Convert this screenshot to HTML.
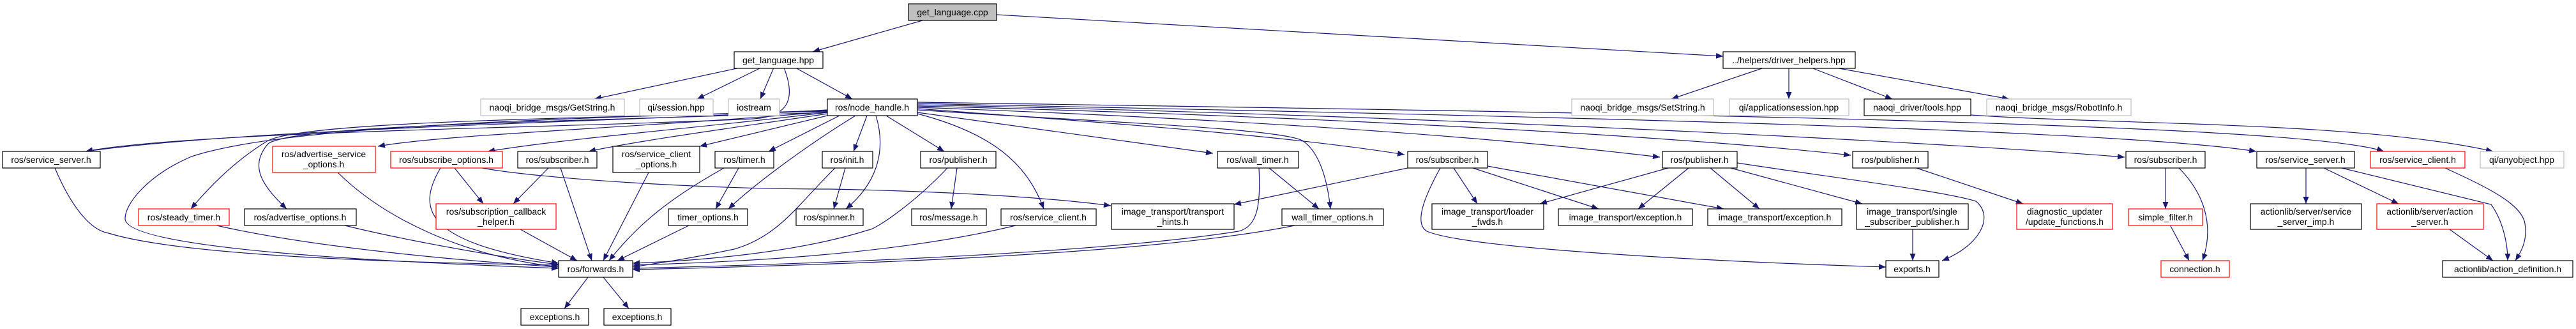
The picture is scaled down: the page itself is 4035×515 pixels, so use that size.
<!DOCTYPE html>
<html><head><meta charset="utf-8"><style>
html,body{margin:0;padding:0;background:#fff;}
svg{display:block;}
text{font-family:"Liberation Sans",Arial,sans-serif;font-size:14px;fill:#000;text-anchor:middle;}
.b{fill:#fff;stroke:#000;stroke-width:1.2;}
.g{fill:#fff;stroke:#bfbfbf;stroke-width:1.2;}
.r{fill:#fff;stroke:#ff0000;stroke-width:1.2;}
.e{fill:none;stroke:#191970;stroke-width:1.2;}
</style></head><body>
<svg width="4035" height="515" viewBox="0 0 4035 515" xmlns="http://www.w3.org/2000/svg">
<defs><marker id="a" markerUnits="userSpaceOnUse" markerWidth="12" markerHeight="9" refX="11" refY="4.5" orient="auto"><path d="M0,0 L11,4.5 L0,9 z" fill="#191970"/></marker></defs>
<g marker-end="url(#a)">
<path class="e" d="M1445,32 L1273,81"/>
<path class="e" d="M1561,23 L2699,88"/>
<path class="e" d="M1159,106 L931,155"/>
<path class="e" d="M1192,106 L1092,155"/>
<path class="e" d="M1212,106 L1191,155"/>
<path class="e" d="M1246,106 L1335,155"/>
<path class="e" d="M1228,106 C1245,150 1240,182 1180,186 C900,200 300,205 134,237"/>
<path class="e" d="M1296,172 C1000,190 400,200 134,237"/>
<path class="e" d="M1296,175 C1000,200 700,210 592,229"/>
<path class="e" d="M1296,176 C1100,200 900,215 764,237"/>
<path class="e" d="M1296,178 C1150,200 1000,220 922,237"/>
<path class="e" d="M1300,180 L1096,229"/>
<path class="e" d="M1315,181 L1204,237"/>
<path class="e" d="M1358,181 L1337,237"/>
<path class="e" d="M1296,174 C900,185 480,190 420,220 C370,250 330,290 299,327"/>
<path class="e" d="M1296,176 C900,190 460,195 420,225 C390,260 410,290 449,327"/>
<path class="e" d="M1296,173 C900,185 450,195 300,245 C230,275 195,320 196,343 C200,390 600,410 875,420"/>
<path class="e" d="M1340,181 C1260,230 1180,290 1141,327"/>
<path class="e" d="M1372,181 C1390,240 1370,290 1325,327"/>
<path class="e" d="M1388,181 L1479,237"/>
<path class="e" d="M1437,178 C1560,210 1610,260 1635,327"/>
<path class="e" d="M1437,176 L1900,240"/>
<path class="e" d="M1437,172 C1700,190 2000,200 2040,220 C2070,240 2080,290 2084,327"/>
<path class="e" d="M1437,170 C1700,190 2000,210 2200,242"/>
<path class="e" d="M1437,168 C1900,185 2300,210 2600,246"/>
<path class="e" d="M1437,166 C2000,180 2600,210 2899,243"/>
<path class="e" d="M1437,164 C2200,180 3000,220 3328,246"/>
<path class="e" d="M1437,162 C2300,180 3300,200 3534,237"/>
<path class="e" d="M1437,160 C2400,175 3600,190 3734,237"/>
<path class="e" d="M3087,180 C3300,195 3700,190 3905,237"/>
<path class="e" d="M2763,106 L2618,155"/>
<path class="e" d="M2802,106 L2802,155"/>
<path class="e" d="M2837,106 L2964,155"/>
<path class="e" d="M2875,106 L3147,155"/>
<path class="e" d="M86,263 C110,320 140,360 170,365 C300,405 700,412 875,415"/>
<path class="e" d="M529,270 C600,340 720,400 875,418"/>
<path class="e" d="M335,352 C500,390 750,410 875,418"/>
<path class="e" d="M536,352 C650,380 800,405 875,414"/>
<path class="e" d="M690,263 C650,330 670,380 875,412"/>
<path class="e" d="M712,263 L757,319"/>
<path class="e" d="M755,263 C850,280 1100,296 1300,296 C1500,300 1650,310 1740,322"/>
<path class="e" d="M859,263 L804,319"/>
<path class="e" d="M878,263 L927,408"/>
<path class="e" d="M1016,270 L945,408"/>
<path class="e" d="M1157,263 L1121,327"/>
<path class="e" d="M1134,263 C1050,310 1000,350 954,408"/>
<path class="e" d="M1324,263 L1306,327"/>
<path class="e" d="M1308,263 C1250,320 1220,370 1150,390 C1080,405 1030,412 991,418"/>
<path class="e" d="M815,359 L904,408"/>
<path class="e" d="M1081,352 L967,408"/>
<path class="e" d="M1499,263 L1490,327"/>
<path class="e" d="M1484,263 C1430,320 1370,360 1360,360 C1250,395 1100,408 991,412"/>
<path class="e" d="M1595,352 C1400,400 1150,410 991,415"/>
<path class="e" d="M1972,263 C1975,320 1970,355 1940,362 C1700,400 1200,415 991,420"/>
<path class="e" d="M1988,263 L2066,327"/>
<path class="e" d="M2033,352 C1800,400 1300,415 991,422"/>
<path class="e" d="M2205,263 L1933,320"/>
<path class="e" d="M2256,263 C2230,310 2215,350 2235,362 C2300,390 2700,410 2954,418"/>
<path class="e" d="M2277,263 L2314,319"/>
<path class="e" d="M2307,263 L2504,327"/>
<path class="e" d="M2330,260 L2700,327"/>
<path class="e" d="M2613,263 L2412,319"/>
<path class="e" d="M2645,263 L2566,327"/>
<path class="e" d="M2679,263 L2756,327"/>
<path class="e" d="M2711,263 L2917,319"/>
<path class="e" d="M2721,255 C2850,275 3050,300 3095,315 C3125,340 3100,385 3042,408"/>
<path class="e" d="M2996,359 L2996,408"/>
<path class="e" d="M3002,263 L3169,319"/>
<path class="e" d="M3392,263 L3392,327"/>
<path class="e" d="M3413,263 C3450,300 3470,350 3450,408"/>
<path class="e" d="M3399,352 L3429,408"/>
<path class="e" d="M3612,263 L3612,319"/>
<path class="e" d="M3640,263 L3757,319"/>
<path class="e" d="M3668,263 L3902,320 C3920,345 3928,380 3928,408"/>
<path class="e" d="M3830,263 C3900,295 3950,320 3955,350 C3960,380 3945,400 3940,408"/>
<path class="e" d="M3837,359 L3905,408"/>
<path class="e" d="M921,434 L884,483"/>
<path class="e" d="M945,434 L985,483"/>
</g>
<!-- nodes -->
<rect x="1423" y="6" width="138" height="26" fill="#bfbfbf" stroke="#000" stroke-width="1.2"/><text x="1492" y="24">get_language.cpp</text>
<rect class="b" x="1150" y="81" width="139" height="26"/><text x="1219" y="99">get_language.hpp</text>
<rect class="b" x="2699" y="81" width="207" height="26"/><text x="2802" y="99">../helpers/driver_helpers.hpp</text>

<rect class="g" x="753" y="155" width="225" height="26"/><text x="865" y="173">naoqi_bridge_msgs/GetString.h</text>
<rect class="g" x="1002" y="155" width="115" height="26"/><text x="1059" y="173">qi/session.hpp</text>
<rect class="g" x="1141" y="155" width="80" height="26"/><text x="1181" y="173">iostream</text>
<rect class="b" x="1296" y="155" width="141" height="26"/><text x="1366" y="173">ros/node_handle.h</text>
<rect class="g" x="2462" y="155" width="222" height="26"/><text x="2573" y="173">naoqi_bridge_msgs/SetString.h</text>
<rect class="g" x="2709" y="155" width="187" height="26"/><text x="2802" y="173">qi/applicationsession.hpp</text>
<rect class="b" x="2920" y="155" width="167" height="26"/><text x="3003" y="173">naoqi_driver/tools.hpp</text>
<rect class="g" x="3112" y="155" width="226" height="26"/><text x="3225" y="173">naoqi_bridge_msgs/RobotInfo.h</text>

<rect class="b" x="4" y="237" width="153" height="26"/><text x="80" y="255">ros/service_server.h</text>
<rect class="r" x="427" y="229" width="161" height="41"/><text x="507" y="246">ros/advertise_service</text><text x="507" y="262">_options.h</text>
<rect class="r" x="612" y="237" width="175" height="26"/><text x="699" y="255">ros/subscribe_options.h</text>
<rect class="b" x="811" y="237" width="124" height="26"/><text x="873" y="255">ros/subscriber.h</text>
<rect class="b" x="960" y="229" width="136" height="41"/><text x="1028" y="246">ros/service_client</text><text x="1028" y="262">_options.h</text>
<rect class="b" x="1120" y="237" width="92" height="26"/><text x="1166" y="255">ros/timer.h</text>
<rect class="b" x="1288" y="237" width="79" height="26"/><text x="1327" y="255">ros/init.h</text>
<rect class="b" x="1442" y="237" width="118" height="26"/><text x="1501" y="255">ros/publisher.h</text>
<rect class="b" x="1907" y="237" width="127" height="26"/><text x="1970" y="255">ros/wall_timer.h</text>
<rect class="b" x="2205" y="237" width="125" height="26"/><text x="2267" y="255">ros/subscriber.h</text>
<rect class="b" x="2604" y="237" width="117" height="26"/><text x="2662" y="255">ros/publisher.h</text>
<rect class="b" x="2902" y="237" width="118" height="26"/><text x="2961" y="255">ros/publisher.h</text>
<rect class="b" x="3330" y="237" width="124" height="26"/><text x="3392" y="255">ros/subscriber.h</text>
<rect class="b" x="3535" y="237" width="153" height="26"/><text x="3611" y="255">ros/service_server.h</text>
<rect class="r" x="3713" y="237" width="148" height="26"/><text x="3787" y="255">ros/service_client.h</text>
<rect class="g" x="3885" y="237" width="131" height="26"/><text x="3950" y="255">qi/anyobject.hpp</text>

<rect class="r" x="217" y="327" width="142" height="26"/><text x="288" y="345">ros/steady_timer.h</text>
<rect class="b" x="383" y="327" width="175" height="26"/><text x="470" y="345">ros/advertise_options.h</text>
<rect class="r" x="683" y="319" width="188" height="40"/><text x="777" y="336">ros/subscription_callback</text><text x="777" y="352">_helper.h</text>
<rect class="b" x="1047" y="327" width="124" height="26"/><text x="1109" y="345">timer_options.h</text>
<rect class="b" x="1247" y="327" width="105" height="26"/><text x="1299" y="345">ros/spinner.h</text>
<rect class="b" x="1428" y="327" width="117" height="26"/><text x="1486" y="345">ros/message.h</text>
<rect class="b" x="1568" y="327" width="149" height="26"/><text x="1642" y="345">ros/service_client.h</text>
<rect class="b" x="1741" y="319" width="192" height="40"/><text x="1837" y="336">image_transport/transport</text><text x="1837" y="352">_hints.h</text>
<rect class="b" x="2008" y="327" width="159" height="26"/><text x="2087" y="345">wall_timer_options.h</text>
<rect class="b" x="2243" y="319" width="175" height="40"/><text x="2330" y="336">image_transport/loader</text><text x="2330" y="352">_fwds.h</text>
<rect class="b" x="2441" y="327" width="210" height="26"/><text x="2546" y="345">image_transport/exception.h</text>
<rect class="b" x="2675" y="327" width="210" height="26"/><text x="2780" y="345">image_transport/exception.h</text>
<rect class="b" x="2908" y="319" width="175" height="40"/><text x="2995" y="336">image_transport/single</text><text x="2995" y="352">_subscriber_publisher.h</text>
<rect class="r" x="3159" y="319" width="150" height="40"/><text x="3234" y="336">diagnostic_updater</text><text x="3234" y="352">/update_functions.h</text>
<rect class="r" x="3334" y="327" width="116" height="26"/><text x="3392" y="345">simple_filter.h</text>
<rect class="b" x="3525" y="319" width="174" height="40"/><text x="3612" y="336">actionlib/server/service</text><text x="3612" y="352">_server_imp.h</text>
<rect class="r" x="3723" y="319" width="167" height="40"/><text x="3806" y="336">actionlib/server/action</text><text x="3806" y="352">_server.h</text>

<rect class="b" x="875" y="408" width="116" height="26"/><text x="933" y="426">ros/forwards.h</text>
<rect class="b" x="2954" y="408" width="83" height="26"/><text x="2995" y="426">exports.h</text>
<rect class="r" x="3385" y="408" width="107" height="26"/><text x="3438" y="426">connection.h</text>
<rect class="b" x="3826" y="408" width="204" height="26"/><text x="3928" y="426">actionlib/action_definition.h</text>

<rect class="b" x="816" y="483" width="106" height="26"/><text x="869" y="501">exceptions.h</text>
<rect class="b" x="946" y="483" width="105" height="26"/><text x="998" y="501">exceptions.h</text>
</svg>
</body></html>
